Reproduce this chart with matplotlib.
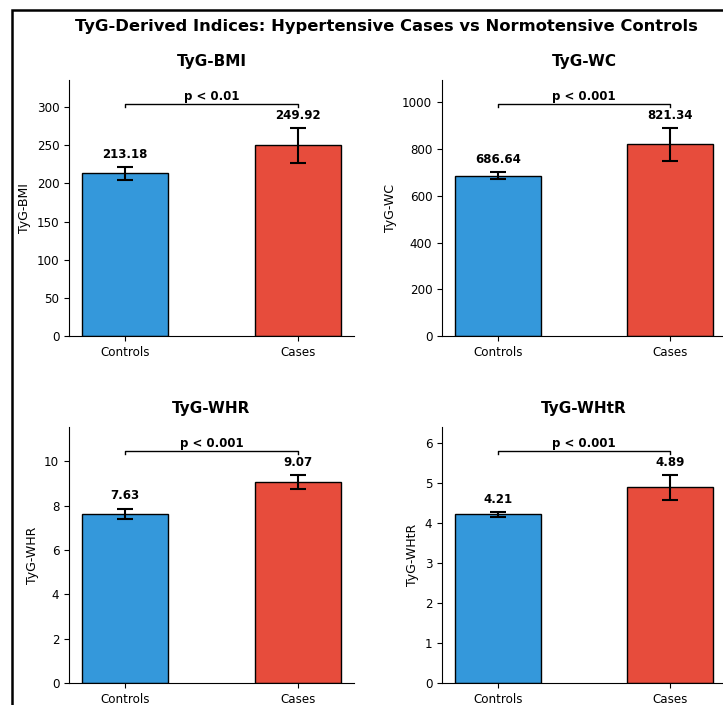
import matplotlib
matplotlib.use("Agg")
import matplotlib.pyplot as plt
from matplotlib.patches import Rectangle
import numpy as np

# values
groups = ["Controls", "Cases"]
indices = ["TyG-BMI", "TyG-WC", "TyG-WHR", "TyG-WHtR"]
control_means = [213.18, 686.64, 7.63, 4.21]
case_means = [249.92, 821.34, 9.07, 4.89]
control_err = [8.5, 14.0, 0.24, 0.06]
case_err = [23.0, 70.0, 0.32, 0.31]
p_labels = ["p < 0.01", "p < 0.001", "p < 0.001", "p < 0.001"]

colors = ["#3498db", "#e74c3c"]

W, H = 723, 705
fig = plt.figure(figsize=(W / 100, H / 100), dpi=100)

# axes boxes in pixels (left, top, right, bottom)
boxes = [(69, 80, 354, 336), (442, 80, 726, 336),
         (69, 427, 354, 683), (442, 427, 726, 683)]

for i, name in enumerate(indices):
    l, t, r, b = boxes[i]
    ax = fig.add_axes([l / W, (H - b) / H, (r - l) / W, (b - t) / H])

    means = [control_means[i], case_means[i]]
    errs = [control_err[i], case_err[i]]
    x = np.arange(len(groups))

    ax.bar(x, means, width=0.5, color=colors, edgecolor="black", linewidth=1.0,
           yerr=errs, capsize=6, error_kw=dict(ecolor="black", elinewidth=1.5, capthick=1.5))

    top = max(m + e for m, e in zip(means, errs))
    for xi, m, e in zip(x, means, errs):
        ax.text(xi, m + e + 0.03 * top, f"{m:.2f}", ha="center", va="bottom",
                fontsize=8.5, fontweight="bold")

    # significance bracket
    y = top * 1.1
    h = top * 0.015
    ax.plot([0, 0, 1, 1], [y, y + h, y + h, y], color="black", linewidth=1)
    ax.text(0.5, y + h + 0.005 * top, p_labels[i], ha="center", va="bottom",
            fontsize=8.5, fontweight="bold")

    ax.set_ylim(0, top * 1.23)
    ax.set_xticks(x)
    ax.set_xticklabels(groups, fontsize=8.6)
    ax.tick_params(axis="y", labelsize=8.6)
    ax.set_ylabel(name, fontsize=9)
    ax.set_title(name, fontsize=11, fontweight="bold", pad=10)
    ax.spines["top"].set_visible(False)
    ax.spines["right"].set_visible(False)

fig.text(386 / W, 1 - 26 / H, "TyG-Derived Indices: Hypertensive Cases vs Normotensive Controls",
         ha="center", va="center", fontsize=11.8, fontweight="bold")

# frame edge visible in the reference (left and top)
fig.add_artist(Rectangle((12 / W, -0.5), 2, 1.5 - 10 / H, transform=fig.transFigure,
                         fill=False, edgecolor="black", linewidth=1.8, clip_on=False))

fig.savefig("out.png", dpi=100)
